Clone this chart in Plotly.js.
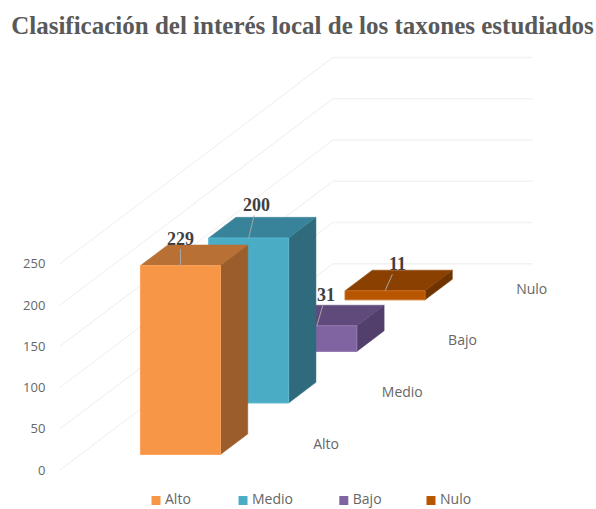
<!DOCTYPE html>
<html>
<head>
<meta charset="utf-8">
<script src="https://cdn.plot.ly/plotly-3.0.1.min.js"></script>
<style>
html,body{margin:0;padding:0;background:#fff}
#chart{width:596px;height:509px}
</style>
</head>
<body>
<div id="chart"></div>
<script>
// Counts of taxa per local-interest class
const categories = ['Alto', 'Medio', 'Bajo', 'Nulo'];
const values = [229, 200, 31, 11];
const yTicks = [0, 50, 100, 150, 200, 250];

// Face colours of each column
const frontColors = ['#F79646', '#4BACC6', '#8064A2', '#B85600'];
const topColors = ['#B97034', '#38829A', '#604A7B', '#8A4001'];
const sideColors = ['#9A5D2B', '#2F6B7D', '#523F6B', '#6E3300'];
const edgeColors = ['#FBA35C', '#5DB8D0', '#917AB0', '#C96A1A'];

// Oblique projection: u runs across the floor (0-1), d runs into the depth (one unit per class)
const FLOOR_W = 200, DEPTH_X = 68.2, DEPTH_V = 62.5;
const BAR_U = [0.3, 0.7], BAR_D = [0.3, 0.7];
const project = (u, d, v) => [u * FLOOR_W + d * DEPTH_X, v + d * DEPTH_V];

function polygon(points, fill, edge, width) {
  const p = points.map(q => project(q[0], q[1], q[2]));
  p.push(p[0]);
  return {
    x: p.map(q => q[0]), y: p.map(q => q[1]),
    type: 'scatter', mode: 'lines', fill: 'toself', fillcolor: fill,
    line: {color: edge, width: width}, hoverinfo: 'skip', showlegend: false
  };
}

function polyline(points, color, width) {
  const p = points.map(q => project(q[0], q[1], q[2]));
  return {
    x: p.map(q => q[0]), y: p.map(q => q[1]),
    type: 'scatter', mode: 'lines',
    line: {color: color, width: width}, hoverinfo: 'skip', showlegend: false
  };
}

const traces = [];

// Gridlines: along the side wall, then across the back wall
yTicks.forEach(t => {
  traces.push(polyline([[0, 0, t], [0, categories.length, t]], '#EDEDED', 1));
  traces.push(polyline([[0, categories.length, t], [1, categories.length, t]], '#F2F2F2', 1.5));
});

// Columns, painted from the back class to the front one
for (let i = categories.length - 1; i >= 0; i--) {
  const [u0, u1] = BAR_U, d0 = i + BAR_D[0], d1 = i + BAR_D[1], v = values[i];
  traces.push(polygon([[u1, d0, 0], [u1, d1, 0], [u1, d1, v], [u1, d0, v]], sideColors[i], sideColors[i], 0.5));
  traces.push(polygon([[u0, d0, v], [u1, d0, v], [u1, d1, v], [u0, d1, v]], topColors[i], topColors[i], 0.5));
  traces.push(polygon([[u0, d0, 0], [u1, d0, 0], [u1, d0, v], [u0, d0, v]], frontColors[i], edgeColors[i], 1));
}

// Class names on the floor, to the right of each column
const floorLabelU = [1.16, 1.2, 1.16, 1.165];
const floorLabels = categories.map((c, i) => project(floorLabelU[i], i + 0.5, -1));
traces.push({
  x: floorLabels.map(p => p[0]), y: floorLabels.map(p => p[1]), text: categories,
  type: 'scatter', mode: 'text', textposition: 'middle center', cliponaxis: false,
  textfont: {family: 'Open Sans, sans-serif', size: 14, color: '#666666'},
  hoverinfo: 'skip', showlegend: false
});

// Key under the chart
const keyX = [96, 183, 283.8, 371];
const keyV = -37;
const keyTextGap = 9;
categories.forEach((c, i) => {
  traces.push({
    x: [keyX[i]], y: [keyV],
    type: 'scatter', mode: 'markers', cliponaxis: false,
    marker: {symbol: 'square', size: 9, color: frontColors[i]},
    hoverinfo: 'skip', showlegend: false
  });
  traces.push({
    x: [keyX[i] + keyTextGap], y: [keyV], text: [c],
    type: 'scatter', mode: 'text', textposition: 'middle right', cliponaxis: false,
    textfont: {family: 'Open Sans, sans-serif', size: 14, color: '#666666'},
    hoverinfo: 'skip', showlegend: false
  });
});

// Value labels with leader lines to the middle of each column's top edge
const labelOffsets = [[0, -27], [8, -33], [9, -31], [12, -27]];
const annotations = categories.map((c, i) => {
  const p = project(0.5, i + BAR_D[0], values[i]);
  return {
    x: p[0], y: p[1], text: String(values[i]),
    showarrow: true, arrowhead: 0, arrowwidth: 1, arrowcolor: '#A6A6A6', standoff: 0,
    ax: labelOffsets[i][0], ay: labelOffsets[i][1], xanchor: 'center', yanchor: 'middle',
    borderpad: 0,
    font: {family: 'Liberation Serif, serif', size: 18, color: '#404040', weight: 700}
  };
});

const layout = {
  width: 596, height: 509,
  margin: {l: 60, r: 0, t: 40, b: 0},
  paper_bgcolor: '#ffffff', plot_bgcolor: '#ffffff',
  showlegend: false,
  title: {
    text: 'Clasificación del interés local de los taxones estudiados',
    x: 302.5 / 596, xanchor: 'center', xref: 'container', y: 1 - 25 / 509, yanchor: 'middle', yref: 'container',
    font: {family: 'Liberation Serif, serif', size: 25, color: '#595959', weight: 700}
  },
  xaxis: {range: [0, 536], visible: false, fixedrange: true},
  yaxis: {
    range: [-47.27, 521.21], fixedrange: true,
    tickmode: 'array', tickvals: yTicks, ticktext: yTicks.map(String),
    ticks: 'outside', ticklen: 11, tickcolor: 'rgba(0,0,0,0)',
    showgrid: false, zeroline: false, showline: false,
    tickfont: {family: 'Open Sans, sans-serif', size: 13, color: '#666666'}
  },
  annotations: annotations
};

Plotly.newPlot('chart', traces, layout, {displayModeBar: false, staticPlot: true});
</script>
</body>
</html>
